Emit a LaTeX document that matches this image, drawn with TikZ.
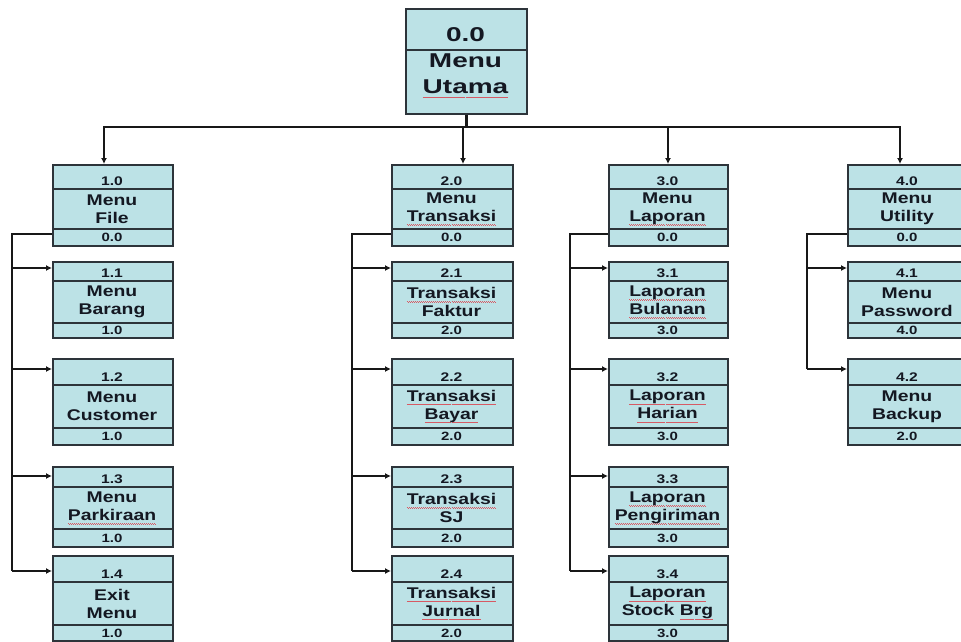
\documentclass[tikz,border=0pt]{standalone}
\usepackage{fontspec}
\usetikzlibrary{arrows.meta}
\setmainfont{Liberation Sans}
\newfontfamily\boxfont[FakeStretch=1.25]{Liberation Sans}
\newfontfamily\topfont[FakeStretch=1.4]{Liberation Sans}

\definecolor{boxfill}{RGB}{188,226,230}
\definecolor{boxline}{RGB}{45,52,58}
\definecolor{ink}{RGB}{20,24,34}
\definecolor{wirecol}{RGB}{24,24,24}
\definecolor{spellred}{RGB}{215,90,100}

% red dotted wave under words flagged by the spell checker
\newsavebox\spellbox
\newcommand\spellmark[1]{\sbox\spellbox{#1}%
  \rlap{\textcolor{spellred}{\hbox to \wd\spellbox{\xleaders\hbox{\rule[-3.2pt]{1pt}{0.6pt}\rule[-3.8pt]{1pt}{0.6pt}}\hfill}}}%
  \usebox\spellbox}

% column edges (left / right)
\def\xlA{52}\def\xrA{172}
\def\xlB{391}\def\xrB{512}
\def\xlC{608}\def\xrC{727}
\def\xlD{847}\def\xrD{967}
% row geometry: top, first divider, second divider, bottom, arrow offset
\def\rtopa{164}\def\rdia{189}\def\rdiia{229}\def\rbota{245}\def\rina{8}
\def\rtopb{261}\def\rdib{281}\def\rdiib{323}\def\rbotb{337}\def\rinb{7}
\def\rtopc{358}\def\rdic{385}\def\rdiic{428}\def\rbotc{444}\def\rinc{11}
\def\rtopd{466}\def\rdid{487}\def\rdiid{529}\def\rbotd{546}\def\rind{10}
\def\rtope{555}\def\rdie{582}\def\rdiie{625}\def\rbote{640}\def\rine{16}

\tikzset{
  hipobox/.style={draw=boxline, fill=boxfill, line width=1.8pt, inner sep=0pt},
  divline/.style={draw=boxline, line width=1.6pt},
  numtext/.style={text=ink, inner sep=0pt, font=\boxfont\bfseries\fontsize{12.5}{14}\selectfont},
  midtext/.style={text=ink, inner sep=0pt, align=center, font=\boxfont\bfseries\fontsize{15.5}{18}\selectfont},
  codetext/.style={text=ink, inner sep=0pt, font=\boxfont\bfseries\fontsize{12}{13}\selectfont},
  toptext/.style={text=ink, inner sep=0pt, align=center, font=\topfont\bfseries\fontsize{20}{26}\selectfont},
  wire/.style={draw=wirecol, line width=2.4pt},
  tip/.style={-{Latex[length=6pt,width=6pt]}}
}

% #1 name, #2 column, #3 row, #4 number, #5 title, #6 parent code
\newcommand\hipo[6]{%
  \edef\bxl{\csname xl#2\endcsname}\edef\bxr{\csname xr#2\endcsname}%
  \edef\btop{\csname rtop#3\endcsname}\edef\bda{\csname rdi#3\endcsname}%
  \edef\bdb{\csname rdii#3\endcsname}\edef\bbot{\csname rbot#3\endcsname}%
  \edef\bin{\csname rin#3\endcsname}%
  \pgfmathsetmacro\bw{\bxr-\bxl}%
  \pgfmathsetmacro\bh{\bbot-\btop}%
  \pgfmathsetmacro\bcx{(\bxl+\bxr)/2}%
  \node[hipobox, minimum width=\bw pt, minimum height=\bh pt, anchor=north west] (#1) at (\bxl,\btop) {};
  \draw[divline] (\bxl,\bda) -- (\bxr,\bda) (\bxl,\bdb) -- (\bxr,\bdb);
  \node[numtext] (#1-num) at ({\bcx},{\bda-7.5}) {#4};
  \node[midtext] (#1-txt) at ({\bcx},{(\bda+\bdb)/2}) {#5};
  \node[codetext] (#1-code) at ({\bcx},{(\bdb+\bbot)/2+0.5}) {#6};
  \coordinate (#1-in) at (\bxl,{\btop+\bin});
  \coordinate (#1-out) at (\bxl,{\bdb+5});
}

\begin{document}
\begin{tikzpicture}[x=1pt, y=-1pt]
\fill[white] (0,0) rectangle (961,641);
\clip (0,0) rectangle (961,641);

% root box
\node[hipobox, minimum width=121pt, minimum height=105pt, anchor=north west] (top) at (405,8) {};
\draw[divline] (405,50) -- (526,50);
\node[toptext] (top-num) at (465.5,35) {0.0};
\node[toptext] (top-txt) at (465.5,76) {Menu\\\spellmark{Utama}};

% column 1
\hipo{a0}{A}{a}{1.0}{Menu\\File}{0.0}
\hipo{a1}{A}{b}{1.1}{Menu\\Barang}{1.0}
\hipo{a2}{A}{c}{1.2}{Menu\\Customer}{1.0}
\hipo{a3}{A}{d}{1.3}{Menu\\\spellmark{Parkiraan}}{1.0}
\hipo{a4}{A}{e}{1.4}{Exit\\Menu}{1.0}
% column 2
\hipo{b0}{B}{a}{2.0}{Menu\\\spellmark{Transaksi}}{0.0}
\hipo{b1}{B}{b}{2.1}{\spellmark{Transaksi}\\Faktur}{2.0}
\hipo{b2}{B}{c}{2.2}{\spellmark{Transaksi}\\\spellmark{Bayar}}{2.0}
\hipo{b3}{B}{d}{2.3}{\spellmark{Transaksi}\\SJ}{2.0}
\hipo{b4}{B}{e}{2.4}{\spellmark{Transaksi}\\\spellmark{Jurnal}}{2.0}
% column 3
\hipo{c0}{C}{a}{3.0}{Menu\\\spellmark{Laporan}}{0.0}
\hipo{c1}{C}{b}{3.1}{\spellmark{Laporan}\\\spellmark{Bulanan}}{3.0}
\hipo{c2}{C}{c}{3.2}{\spellmark{Laporan}\\\spellmark{Harian}}{3.0}
\hipo{c3}{C}{d}{3.3}{\spellmark{Laporan}\\\spellmark{Pengiriman}}{3.0}
\hipo{c4}{C}{e}{3.4}{\spellmark{Laporan}\\Stock \spellmark{Brg}}{3.0}
% column 4
\hipo{d0}{D}{a}{4.0}{Menu\\Utility}{0.0}
\hipo{d1}{D}{b}{4.1}{Menu\\Password}{4.0}
\hipo{d2}{D}{c}{4.2}{Menu\\Backup}{2.0}

% bus from the root to the four menus
\coordinate (busA) at (104,127);
\coordinate (busB) at (463,127);
\coordinate (busC) at (668,127);
\coordinate (busD) at (900,127);
\draw[wire] (top.south) -- (top.south |- busA);
\draw[wire, line cap=rect] (busA) -- (busD);
\foreach \c/\b in {A/a0,B/b0,C/c0,D/d0}
  \draw[wire,tip] (bus\c) -- (bus\c |- \b.north);

% trunks from each menu to its sub-menus
\coordinate (trunkA) at (12,234);
\coordinate (trunkB) at (352,234);
\coordinate (trunkC) at (570,234);
\coordinate (trunkD) at (807,234);
\draw[wire, line join=miter] (a0-out) -- (trunkA |- a0-out) -- (trunkA |- a4-in);
\draw[wire, line join=miter] (b0-out) -- (trunkB |- b0-out) -- (trunkB |- b4-in);
\draw[wire, line join=miter] (c0-out) -- (trunkC |- c0-out) -- (trunkC |- c4-in);
\draw[wire, line join=miter] (d0-out) -- (trunkD |- d0-out) -- (trunkD |- d2-in);
\foreach \n in {a1,a2,a3,a4} \draw[wire,tip] (trunkA |- \n-in) -- (\n-in);
\foreach \n in {b1,b2,b3,b4} \draw[wire,tip] (trunkB |- \n-in) -- (\n-in);
\foreach \n in {c1,c2,c3,c4} \draw[wire,tip] (trunkC |- \n-in) -- (\n-in);
\foreach \n in {d1,d2} \draw[wire,tip] (trunkD |- \n-in) -- (\n-in);
\end{tikzpicture}
\end{document}
